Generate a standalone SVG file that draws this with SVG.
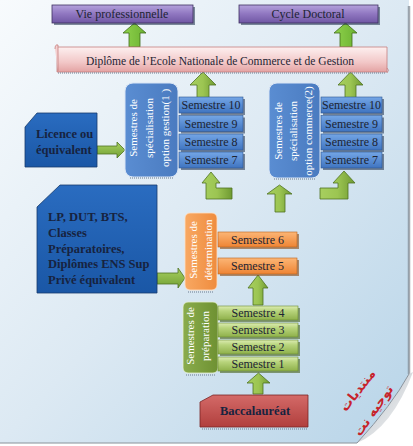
<svg xmlns="http://www.w3.org/2000/svg" width="413" height="446" viewBox="0 0 413 446">
<defs>
<linearGradient id="bg" x1="0" y1="0" x2="1" y2="1">
<stop offset="0" stop-color="#f8fbfd"/><stop offset="0.5" stop-color="#dce9f3"/><stop offset="1" stop-color="#b7d4e8"/>
</linearGradient>
<linearGradient id="curl" x1="0" y1="0" x2="1" y2="1">
<stop offset="0" stop-color="#8e969e"/><stop offset="0.45" stop-color="#d4d8dc"/><stop offset="1" stop-color="#fafafa"/>
</linearGradient>
<linearGradient id="gPurple" x1="0" y1="0" x2="0" y2="1">
<stop offset="0" stop-color="#b4a2dc"/><stop offset="0.5" stop-color="#8f76c0"/><stop offset="1" stop-color="#7057a4"/>
</linearGradient>
<linearGradient id="gPink" x1="0" y1="0" x2="0" y2="1">
<stop offset="0" stop-color="#fdf0f0"/><stop offset="0.6" stop-color="#f2c8c8"/><stop offset="1" stop-color="#e3a3a3"/>
</linearGradient>
<linearGradient id="gBlueSem" x1="0" y1="0" x2="0" y2="1">
<stop offset="0" stop-color="#74a6e6"/><stop offset="1" stop-color="#3f74c0"/>
</linearGradient>
<linearGradient id="gBlueGrp" x1="0" y1="0" x2="1" y2="0">
<stop offset="0" stop-color="#5a8dd2"/><stop offset="1" stop-color="#4a7bc0"/>
</linearGradient>
<linearGradient id="gDark" x1="0" y1="0" x2="0" y2="1">
<stop offset="0" stop-color="#2a6cc0"/><stop offset="1" stop-color="#1a57a6"/>
</linearGradient>
<linearGradient id="gOrange" x1="0" y1="0" x2="0" y2="1">
<stop offset="0" stop-color="#fcb676"/><stop offset="1" stop-color="#ee8434"/>
</linearGradient>
<linearGradient id="gOrangeGrp" x1="0" y1="0" x2="1" y2="0">
<stop offset="0" stop-color="#f8a862"/><stop offset="1" stop-color="#ef8c3e"/>
</linearGradient>
<linearGradient id="gGreenSem" x1="0" y1="0" x2="0" y2="1">
<stop offset="0" stop-color="#dcecb2"/><stop offset="0.35" stop-color="#b8d47c"/><stop offset="1" stop-color="#8eb04a"/>
</linearGradient>
<linearGradient id="gGreenGrp" x1="0" y1="0" x2="1" y2="0">
<stop offset="0" stop-color="#8aac4c"/><stop offset="1" stop-color="#6e9132"/>
</linearGradient>
<linearGradient id="gRed" x1="0" y1="0" x2="0" y2="1">
<stop offset="0" stop-color="#d46a68"/><stop offset="1" stop-color="#b13f3d"/>
</linearGradient>
<linearGradient id="gArrowV" x1="0" y1="0" x2="1" y2="0">
<stop offset="0" stop-color="#a7cf5f"/><stop offset="0.5" stop-color="#9cc552"/><stop offset="1" stop-color="#6f9a32"/>
</linearGradient>
<linearGradient id="gArrowTop" x1="0" y1="0" x2="1" y2="0">
<stop offset="0" stop-color="#8fd24c"/><stop offset="1" stop-color="#6cb232"/>
</linearGradient>
<linearGradient id="gArrowH" x1="0" y1="0" x2="0" y2="1">
<stop offset="0" stop-color="#a7d060"/><stop offset="1" stop-color="#72a034"/>
</linearGradient>
</defs>
<style>
text{font-family:"Liberation Serif","Times New Roman",serif}
.t{font-size:12px;fill:#1c2433;text-anchor:middle}
.d{font-size:11.5px;fill:#1c2433;text-anchor:middle}
.b{font-size:12.5px;font-weight:bold;fill:#17233f}
.r{font-size:11px;fill:#ffffff;text-anchor:middle}
.sh{fill:#1d2f4c;opacity:0.55}
.semB{fill:url(#gBlueSem);stroke:#2d568f;stroke-width:0.6}
.semO{fill:url(#gOrange);stroke:#b8611d;stroke-width:0.6}
.semG{fill:url(#gGreenSem);stroke:#6a8a30;stroke-width:0.6}
.arr{fill:url(#gArrowV);stroke:#4f7222;stroke-width:0.8}
.arrT{fill:url(#gArrowTop);stroke:#3f6a1a;stroke-width:0.8}
.arrH{fill:url(#gArrowH);stroke:#4f7222;stroke-width:0.8}
.dots{stroke:#6a7a8e;stroke-width:1.2;stroke-dasharray:1 1;fill:none}
text.ar{font-family:"DejaVu Sans",sans-serif;font-weight:bold;font-size:13px;fill:#c7232b;text-anchor:middle}
</style>

<!-- background page with curl -->
<rect x="0" y="0" width="413" height="446" fill="#ffffff"/>
<path d="M0 0 H409 V374 Q392 405 357 443 H0 Z" fill="url(#bg)"/>
<path d="M409 6 V374" stroke="#7f8790" stroke-width="2.5" opacity="0.7"/>
<path d="M0 443 H357" stroke="#9aa2aa" stroke-width="2" opacity="0.6"/>
<path d="M409 374 Q392 405 357 443 Q392 428 413 372 Z" fill="url(#curl)"/>
<path d="M409 374 Q392 405 357 443" fill="none" stroke="#8a939c" stroke-width="1"/>

<g id="watermark">
<text class="ar" transform="translate(361,393) rotate(-52)">منتديات</text>
<text class="ar" transform="translate(377,413) rotate(-55)">توجيه نت</text>
</g>

<!-- connectors -->
<g id="connectors">
<polygon class="arrT" points="123,33 134.5,23 146,33 140,33 140,47 129,47 129,33"/>
<polygon class="arrT" points="334,33 345.5,23 357,33 352,33 352,47 340,47 340,33"/>
<polygon class="arr" points="190,85 203,72 216,85 209,85 209,98 197,98 197,85"/>
<polygon class="arr" points="338,85 350.5,72 363,85 356,85 356,98 345,98 345,85"/>
<polygon class="arrH" points="97,146 117,146 117,142 125,150 117,158 117,154 97,154"/>
<polygon class="arrH" points="157,273 178,273 178,268 185,278 178,288 178,284 157,284"/>
<polygon class="arr" points="202,183 211,172 220,183 216,183 216,188 232,188 232,199 206,199 206,183"/>
<polygon class="arr" points="267,194 279.5,185 292,194 285,194 285,212 275,212 275,194"/>
<polygon class="arr" points="333,183 344,171 355,183 348,183 348,199 320,199 320,188 338,188 338,183"/>
<polygon class="arr" points="248,288 258,275 268,288 263,288 263,305 253,305 253,288"/>
<polygon class="arr" points="247,383 258.5,373 270,383 263,383 263,394 253,394 253,383"/>
</g>

<g id="vie-pro">
<rect x="54" y="7" width="141" height="18" class="sh"/>
<rect x="52" y="5" width="141" height="18" fill="url(#gPurple)" stroke="#3e3060" stroke-width="0.8"/>
<text class="t" x="122" y="18">Vie professionnelle</text>
</g>

<g id="cycle-doctoral">
<rect x="241" y="7" width="139" height="18" class="sh"/>
<rect x="239" y="5" width="139" height="18" fill="url(#gPurple)" stroke="#3e3060" stroke-width="0.8"/>
<text class="t" x="308" y="18">Cycle Doctoral</text>
</g>

<g id="diplome">
<path d="M57 47 H387 V72 H57 Z" fill="url(#gPink)" stroke="#c47f7f" stroke-width="0.8"/>
<path d="M55 49 Q55 44 58 45 V71" fill="#f4d0d0" stroke="#c47f7f" stroke-width="0.8"/>
<path d="M387 68 Q390 70 387 73" fill="none" stroke="#c47f7f" stroke-width="0.8"/>
<path d="M58 73 H386" class="dots"/>
<text class="d" x="220" y="65">Diplôme de l’Ecole Nationale de Commerce et de Gestion</text>
</g>

<g id="licence">
<polygon points="25,127 37,113 97,113 97,167 25,167" fill="url(#gDark)" stroke="#173b6c" stroke-width="0.8"/>
<text class="b" x="36" y="138">Licence ou</text>
<text class="b" x="36" y="154">équivalent</text>
</g>

<g id="lp-dut">
<polygon points="37,207 60,185 157,185 157,293 37,293" fill="url(#gDark)" stroke="#173b6c" stroke-width="0.8"/>
<text class="b" x="48" y="221">LP, DUT, BTS,</text>
<text class="b" x="48" y="237">Classes</text>
<text class="b" x="48" y="253">Préparatoires,</text>
<text class="b" x="48" y="268">Diplômes ENS Sup</text>
<text class="b" x="48" y="284">Privé équivalent</text>
</g>

<g id="gestion">
<rect x="125" y="83" width="53" height="94" rx="8" fill="url(#gBlueGrp)" stroke="#d9e5f5" stroke-width="1"/>
<path d="M130 178 H174" class="dots"/>
<text class="r" transform="translate(137,128) rotate(-90)">Semestres de</text>
<text class="r" transform="translate(153,128) rotate(-90)">spécialisation</text>
<text class="r" transform="translate(169,128) rotate(-90)">option gestion(1 )</text>
<rect x="181" y="99" width="64" height="16" class="sh"/>
<rect x="179" y="97" width="64" height="16" class="semB"/>
<text class="t" x="211" y="109">Semestre 10</text>
<rect x="181" y="117.5" width="64" height="16" class="sh"/>
<rect x="179" y="115.5" width="64" height="16" class="semB"/>
<text class="t" x="211" y="127.5">Semestre 9</text>
<rect x="181" y="136" width="64" height="16" class="sh"/>
<rect x="179" y="134" width="64" height="16" class="semB"/>
<text class="t" x="211" y="146">Semestre 8</text>
<rect x="181" y="154" width="64" height="16" class="sh"/>
<rect x="179" y="152" width="64" height="16" class="semB"/>
<text class="t" x="211" y="164">Semestre 7</text>
</g>

<g id="commerce">
<rect x="269" y="83" width="51" height="95" rx="8" fill="url(#gBlueGrp)" stroke="#d9e5f5" stroke-width="1"/>
<path d="M274 179 H316" class="dots"/>
<text class="r" transform="translate(282,131) rotate(-90)">Semestres de</text>
<text class="r" transform="translate(297,131) rotate(-90)">spécialisation</text>
<text class="r" transform="translate(312,131) rotate(-90)">option commerce(2)</text>
<rect x="323" y="99" width="61" height="16" class="sh"/>
<rect x="321" y="97" width="61" height="16" class="semB"/>
<text class="t" x="351.5" y="109">Semestre 10</text>
<rect x="323" y="117.5" width="61" height="16" class="sh"/>
<rect x="321" y="115.5" width="61" height="16" class="semB"/>
<text class="t" x="351.5" y="127.5">Semestre 9</text>
<rect x="323" y="136" width="61" height="16" class="sh"/>
<rect x="321" y="134" width="61" height="16" class="semB"/>
<text class="t" x="351.5" y="146">Semestre 8</text>
<rect x="323" y="154" width="61" height="16" class="sh"/>
<rect x="321" y="152" width="61" height="16" class="semB"/>
<text class="t" x="351.5" y="164">Semestre 7</text>
</g>

<g id="determination">
<rect x="185" y="213" width="32" height="77" rx="5" fill="url(#gOrangeGrp)" stroke="#ffe0c4" stroke-width="0.8"/>
<path d="M188 292 H214" class="dots"/>
<text class="r" transform="translate(197,250) rotate(-90)">Semestres de</text>
<text class="r" transform="translate(212,250) rotate(-90)">détermination</text>
<rect x="220" y="234" width="79" height="15" fill="#8a4a14" opacity="0.6"/>
<rect x="218" y="232" width="79" height="15" class="semO"/>
<text class="t" x="257.5" y="244">Semestre 6</text>
<rect x="220" y="260" width="79" height="16" fill="#8a4a14" opacity="0.6"/>
<rect x="218" y="258" width="79" height="16" class="semO"/>
<text class="t" x="257.5" y="270">Semestre 5</text>
</g>

<g id="preparation">
<rect x="183" y="302" width="35" height="71" rx="5" fill="url(#gGreenGrp)" stroke="#e6f0d0" stroke-width="0.8"/>
<path d="M186 375 H215" class="dots"/>
<text class="r" transform="translate(194,336) rotate(-90)">Semestres de</text>
<text class="r" transform="translate(209,336) rotate(-90)">préparation</text>
<rect x="220" y="308" width="80" height="14" fill="#4a6220" opacity="0.6"/>
<rect x="218" y="306" width="80" height="14" class="semG"/>
<text class="t" x="258" y="317">Semestre 4</text>
<rect x="220" y="325" width="80" height="14" fill="#4a6220" opacity="0.6"/>
<rect x="218" y="323" width="80" height="14" class="semG"/>
<text class="t" x="258" y="334">Semestre 3</text>
<rect x="220" y="342" width="80" height="14" fill="#4a6220" opacity="0.6"/>
<rect x="218" y="340" width="80" height="14" class="semG"/>
<text class="t" x="258" y="351">Semestre 2</text>
<rect x="220" y="359" width="80" height="14" fill="#4a6220" opacity="0.6"/>
<rect x="218" y="357" width="80" height="14" class="semG"/>
<text class="t" x="258" y="368">Semestre 1</text>
</g>

<g id="baccalaureat">
<path d="M202 429 H308" class="dots"/>
<polygon points="200,402 213,395 308,395 308,427 200,427" fill="url(#gRed)" stroke="#7a2424" stroke-width="0.8"/>
<text class="b" x="255" y="415" text-anchor="middle">Baccalauréat</text>
</g>
</svg>
